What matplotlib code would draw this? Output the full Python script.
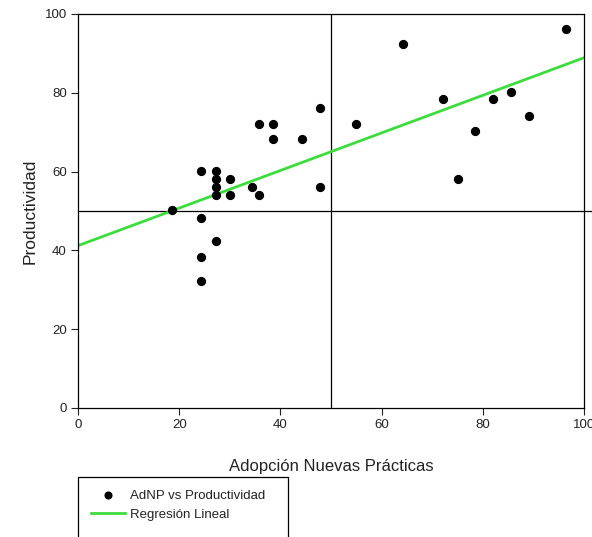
import numpy as np
import matplotlib.pyplot as plt
from matplotlib.patches import Rectangle

plt.rcParams['font.family'] = ['Liberation Sans', 'DejaVu Sans']

# AdNP (Adopcion Nuevas Practicas) vs Productividad
adnp = [18.6, 24.3, 24.3, 24.3, 24.3, 27.2, 27.2, 27.2, 27.2, 27.2,
        30.0, 30.0, 34.3, 35.8, 35.8, 38.6, 38.6, 44.2, 47.8, 47.8,
        55.0, 64.3, 72.1, 75.0, 78.5, 82.1, 85.6, 89.2, 96.4]
prod = [50.3, 60.2, 48.1, 38.2, 32.3, 60.2, 58.1, 56.2, 54.1, 42.4,
        58.1, 54.1, 56.2, 54.1, 72.2, 72.2, 68.2, 68.2, 76.2, 56.2,
        72.2, 92.3, 78.3, 58.2, 70.3, 78.3, 80.3, 74.1, 96.2]

# regression line
reg_x = [0, 100]
reg_y = [41.2, 88.9]

x_ref = 50
y_ref = 50

fig = plt.figure(figsize=(5.92, 5.37), dpi=100)
ax = fig.add_axes([78/592, 129/537, 506/592, 394/537])

ax.scatter(adnp, prod, s=32, color='black', zorder=3, label='AdNP vs Productividad')
ax.plot(reg_x, reg_y, color='#3ddc3d', lw=2.0, zorder=2, label='Regresión Lineal')

ax.plot([0, 101.6], [y_ref, y_ref], color='black', lw=0.9, clip_on=False, zorder=1)
ax.plot([x_ref, x_ref], [0, 100], color='black', lw=0.9, zorder=1)

ax.set_xlim(0, 100)
ax.set_ylim(0, 100)
ax.set_xticks([0, 20, 40, 60, 80, 100])
ax.set_yticks([0, 20, 40, 60, 80, 100])
ax.tick_params(direction='out', length=5, width=0.8, labelsize=9.5, colors='#222222', pad=3)
for s in ax.spines.values():
    s.set_linewidth(0.9)

ax.set_xlabel('Adopción Nuevas Prácticas', fontsize=12, labelpad=20, color='#222222')
ax.set_ylabel('Productividad', fontsize=12.5, labelpad=5, color='#222222')

fig.patches.append(Rectangle((78/592, -0.05), 210/592, (537 - 477)/537 + 0.05,
                             transform=fig.transFigure, fill=False,
                             edgecolor='black', lw=0.9))
fig.legend(loc='upper left', bbox_to_anchor=(84/592, 1 - 483/537), frameon=False,
           fontsize=9.5, handlelength=2.6, handletextpad=0.4, labelspacing=0.5,
           borderpad=0, markerscale=0.85, labelcolor='#222222')

fig.savefig('out.png', dpi=100)
